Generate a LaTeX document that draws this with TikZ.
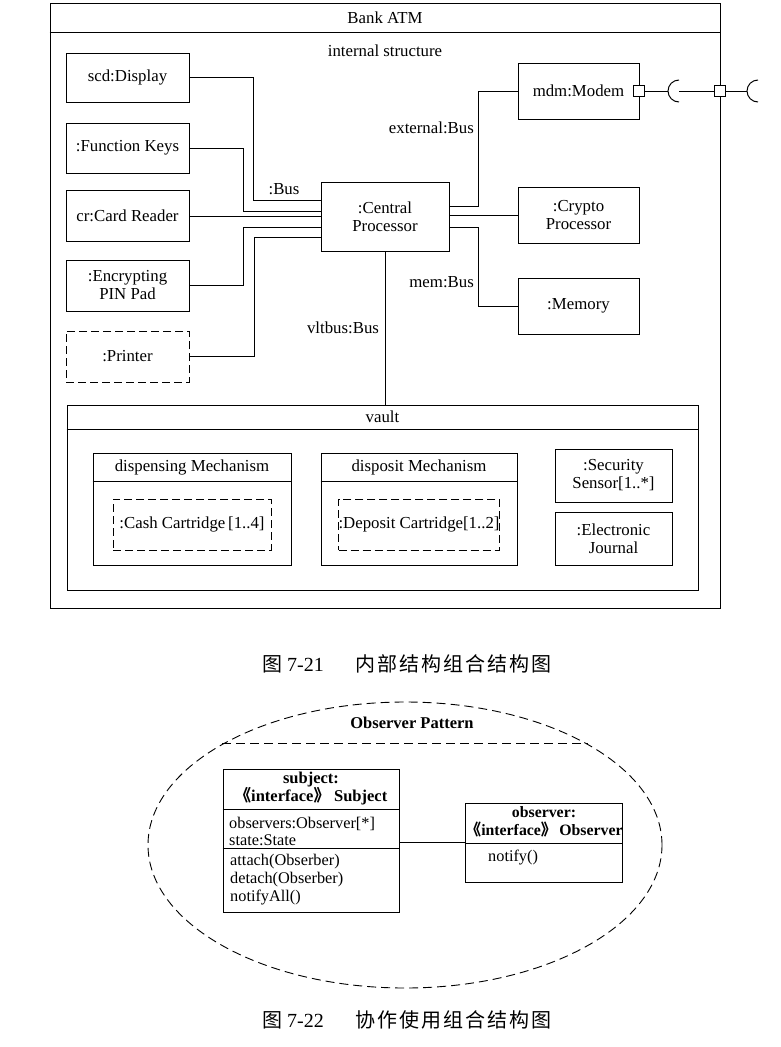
\documentclass[tikz,border=0pt]{standalone}
\usepackage{fontspec}
\setmainfont{Liberation Serif}
\newfontfamily\cjk{Noto Sans CJK SC}
\newfontfamily\cjkcap[LetterSpace=10]{Noto Sans CJK SC}
\usetikzlibrary{shapes.geometric}
\tikzset{
  txt/.style={font=\fontsize{16.8}{18}\selectfont},
  box/.style={draw, line width=1pt, inner sep=0pt, align=center, txt},
  dbox/.style={box, dash pattern=on 8pt off 4pt},
  lbl/.style={inner sep=0pt, txt},
  wire/.style={line width=1pt},
  dline/.style={line width=0.9pt, dash pattern=on 9pt off 5pt},
  port/.style={draw, fill=white, minimum size=11pt, inner sep=0pt, line width=1pt},
  captxt/.style={inner sep=0pt, anchor=west, font=\fontsize{20}{22}\selectfont}
}
\begin{document}
\begin{tikzpicture}[x=1pt,y=-1pt]
\useasboundingbox (0,0) rectangle (780,1047);
% ---------- outer frame ----------
\node[box, minimum width=670pt, minimum height=605pt] (atm) at (385,305.5) {};
\draw[wire] ([yshift=-30pt]atm.north west) -- ([yshift=-30pt]atm.north east);
\node[lbl] (atmt) at (385,18) {Bank ATM};
\node[lbl] (ist) at (385,51) {internal structure};
% ---------- left parts ----------
\node[box, minimum width=123pt, minimum height=49pt] (disp) at (127.5,77.5) {scd:Display};
\node[box, minimum width=123pt, minimum height=50pt] (fk) at (127.5,148) {:Function Keys};
\node[box, minimum width=123pt, minimum height=51pt] (cr) at (127.5,216) {cr:Card Reader};
\node[box, minimum width=123pt, minimum height=51pt] (pin) at (127.5,285.5) {:Encrypting\\PIN Pad};
\node[dbox, minimum width=123pt, minimum height=51pt] (prn) at (127.5,356.5) {:Printer};
% ---------- central ----------
\node[box, minimum width=128pt, minimum height=69pt] (cp) at (385,216.5) {:Central\\Processor};
% ---------- right parts ----------
\node[box, minimum width=121pt, minimum height=56pt] (mdm) at (578.5,91) {mdm:Modem};
\node[box, minimum width=121pt, minimum height=56pt] (cryp) at (578.5,215) {:Crypto\\Processor};
\node[box, minimum width=121pt, minimum height=56pt] (mem) at (578.5,306) {:Memory};
% ---------- left buses ----------
\coordinate (b1) at (253,200);
\draw[wire] (disp.east) -| (b1) -- (b1 -| cp.west);
\coordinate (b2) at (243,211);
\draw[wire] (fk.east) -| (b2) -- (b2 -| cp.west);
\draw[wire] (cr.east) -- (cr.east -| cp.west);
\coordinate (b4) at (243,227);
\draw[wire] (pin.east) -| (b4) -- (b4 -| cp.west);
\coordinate (b5) at (254,237);
\draw[wire] (prn.east) -| (b5) -- (b5 -| cp.west);
% ---------- right buses ----------
\coordinate (r1) at (478,206);
\draw[wire] (r1 -| cp.east) -- (r1) |- (mdm.west);
\draw[wire] (cryp.west -| cp.east) -- (cryp.west);
\coordinate (r3) at (478,227);
\draw[wire] (r3 -| cp.east) -- (r3) |- (mem.west);
% ---------- bus labels ----------
\node[lbl] (lbus) at (284,189) {:Bus};
\node[lbl, anchor=east] (lext) at (474,128) {external:Bus};
\node[lbl, anchor=east] (lmem) at (474,282) {mem:Bus};
\node[lbl] (lvlt) at (343,328) {vltbus:Bus};
% ---------- modem ports ----------
\node[port] (p1) at (639,91) {};
\coordinate (s1) at (679,91);
\draw[wire] (p1.east) -- ([xshift=-11pt]s1);
\draw[wire] ([yshift=11pt]s1) arc[start angle=90, end angle=270, radius=11pt];
\node[port] (p2) at (720,91) {};
\draw[wire] (s1) -- (p2.west);
\coordinate (s2) at (758,91);
\draw[wire] (p2.east) -- ([xshift=-11pt]s2);
\draw[wire] ([yshift=11pt]s2) arc[start angle=90, end angle=270, radius=11pt];
% ---------- vault ----------
\node[box, minimum width=631pt, minimum height=185pt] (vault) at (382.5,497.5) {};
\draw[wire] ([yshift=-25pt]vault.north west) -- ([yshift=-25pt]vault.north east);
\node[lbl] (vaultt) at ([yshift=-12.5pt]vault.north) {vault};
\draw[wire] (cp.south) -- (cp.south |- vault.north);
% dispensing
\node[box, minimum width=198pt, minimum height=112pt] (dm) at (192,509) {};
\draw[wire] ([yshift=-29pt]dm.north west) -- ([yshift=-29pt]dm.north east);
\node[lbl] (dmt) at ([yshift=-14.5pt]dm.north) {dispensing Mechanism};
\node[dbox, minimum width=158pt, minimum height=51pt] (cash) at (192,524.5) {:Cash Cartridge\,[1..4]};
% deposit
\node[box, minimum width=196pt, minimum height=112pt] (depm) at (419,509) {};
\draw[wire] ([yshift=-29pt]depm.north west) -- ([yshift=-29pt]depm.north east);
\node[lbl] (depmt) at ([yshift=-14.5pt]depm.north) {disposit Mechanism};
\node[dbox, minimum width=160pt, minimum height=51pt] (depc) at (419,524.5) {:Deposit Cartridge[1..2]};
% sensors
\node[box, minimum width=117pt, minimum height=53pt] (sec) at (613.5,475.5) {:Security\\Sensor[1..*]};
\node[box, minimum width=117pt, minimum height=53pt] (ej) at (613.5,538.5) {:Electronic\\Journal};
% ---------- caption 1 ----------
\node[captxt] (c1a) at (262,664) {{\cjk 图} 7-21};
\node[captxt] (c1b) at (355,664) {\cjkcap 内部结构组合结构图};
% ---------- observer pattern ----------
\node[draw, ellipse, dline, minimum width=514pt, minimum height=286pt, inner sep=0pt] (collab) at (405,845) {};
\draw[dline] (collab.151) -- (collab.29);
\node[lbl, font=\fontsize{16.5}{18}\selectfont\bfseries] (opt) at (412,723) {Observer Pattern};
% subject
\node[box, minimum width=176pt, minimum height=143pt] (subj) at (311,840.5) {};
\draw[wire] ([yshift=-41pt]subj.north west) -- ([yshift=-41pt]subj.north east);
\draw[wire] ([yshift=-80pt]subj.north west) -- ([yshift=-80pt]subj.north east);
\node[lbl, align=center, font=\fontsize{16.5}{18}\selectfont\bfseries] (subjh) at (311,789) {subject:\\{\cjk 《}interface{\cjk 》}\ Subject};
\node[lbl, anchor=west, align=left, font=\fontsize{16.3}{17}\selectfont] (subja) at (229,831.5) {observers:Observer[*]\\state:State};
\node[lbl, anchor=west, align=left, font=\fontsize{16.3}{18}\selectfont] (subjo) at (230,880) {attach(Obserber)\\detach(Obserber)\\notifyAll()};
% observer
\node[box, minimum width=157pt, minimum height=79pt] (obs) at (543.5,842.5) {};
\draw[wire] ([yshift=-41pt]obs.north west) -- ([yshift=-41pt]obs.north east);
\node[lbl, align=center, font=\fontsize{15.8}{18}\selectfont\bfseries] (obsh) at (544,822) {observer:\\{\cjk 《}interface{\cjk 》}\,Observer};
\node[lbl, anchor=west, font=\fontsize{16.3}{18}\selectfont] (obso) at (488,858) {notify()};
\draw[wire] (obs.west -| subj.east) -- (obs.west);
% ---------- caption 2 ----------
\node[captxt] (c2a) at (262,1020) {{\cjk 图} 7-22};
\node[captxt] (c2b) at (355,1020) {\cjkcap 协作使用组合结构图};
\end{tikzpicture}
\end{document}
